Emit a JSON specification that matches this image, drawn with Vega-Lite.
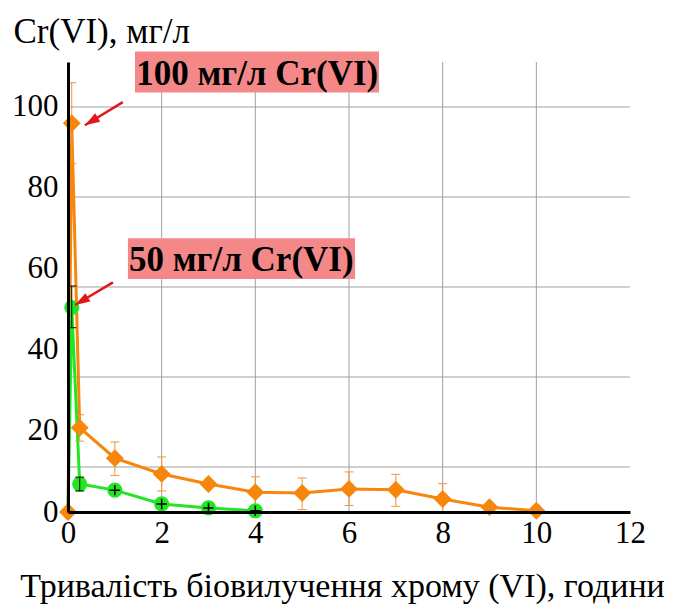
{
  "$schema": "https://vega.github.io/schema/vega-lite/v6.json",
  "width": 562,
  "height": 450,
  "autosize": {"type": "none"},
  "padding": {"left": 68, "top": 62, "right": 48, "bottom": 93},
  "background": "white",
  "config": {"view": {"stroke": null}, "font": "Liberation Serif"},
  "datasets": {
    "series": [
      {"t": 0, "c": 0, "s": "100"},
      {"t": 0.08, "c": 96, "s": "100"},
      {"t": 0.25, "c": 20.8, "s": "100"},
      {"t": 1, "c": 13.3, "s": "100"},
      {"t": 2, "c": 9.4, "s": "100"},
      {"t": 3, "c": 6.9, "s": "100"},
      {"t": 4, "c": 4.9, "s": "100"},
      {"t": 5, "c": 4.7, "s": "100"},
      {"t": 6, "c": 5.7, "s": "100"},
      {"t": 7, "c": 5.5, "s": "100"},
      {"t": 8, "c": 3.2, "s": "100"},
      {"t": 9, "c": 1.2, "s": "100"},
      {"t": 10, "c": 0.3, "s": "100"},
      {"t": 0, "c": 0, "s": "50"},
      {"t": 0.08, "c": 50.5, "s": "50"},
      {"t": 0.25, "c": 6.9, "s": "50"},
      {"t": 1, "c": 5.4, "s": "50"},
      {"t": 2, "c": 2.0, "s": "50"},
      {"t": 3, "c": 1.0, "s": "50"},
      {"t": 4, "c": 0.3, "s": "50"}
    ],
    "errors": [
      {"t": 0.08, "lo": 86, "hi": 106, "s": "100"},
      {"t": 0.25, "lo": 17.5, "hi": 24, "s": "100"},
      {"t": 1, "lo": 9, "hi": 17.3, "s": "100"},
      {"t": 2, "lo": 5.2, "hi": 13.6, "s": "100"},
      {"t": 4, "lo": 1, "hi": 8.7, "s": "100"},
      {"t": 5, "lo": 0.6, "hi": 8.4, "s": "100"},
      {"t": 6, "lo": 1.6, "hi": 9.9, "s": "100"},
      {"t": 7, "lo": 1.4, "hi": 9.3, "s": "100"},
      {"t": 8, "lo": 0, "hi": 7, "s": "100"},
      {"t": 0.08, "lo": 45.5, "hi": 55.8, "s": "50"},
      {"t": 0.25, "lo": 5.2, "hi": 8.6, "s": "50"}
    ],
    "hgrid": [{"v": 11.11}, {"v": 33.33}, {"v": 55.56}, {"v": 77.78}, {"v": 100}],
    "vgrid": [{"v": 2}, {"v": 4}, {"v": 6}, {"v": 8}, {"v": 10}],
    "notes": [
      {"label": "100 мг/л Cr(VI)", "x1": 1.43, "x2": 6.64, "y1": 103.6, "y2": 113.7, "xc": 4.04, "yc": 108.5},
      {"label": "50 мг/л Cr(VI)", "x1": 1.28, "x2": 6.13, "y1": 57.5, "y2": 67.6, "xc": 3.7, "yc": 62.4}
    ],
    "arrows": [
      {"x0": 1.17, "y0": 101.2, "x1": 0.36, "y1": 95.5},
      {"x0": 0.96, "y0": 56.7, "x1": 0.15, "y1": 51.1}
    ]
  },
  "layer": [
    {
      "data": {"name": "hgrid"},
      "mark": {"type": "rule", "color": "#a0a0a0", "strokeWidth": 1},
      "encoding": {
        "y": {"field": "v", "type": "quantitative"}
      }
    },
    {
      "data": {"name": "vgrid"},
      "mark": {"type": "rule", "color": "#a0a0a0", "strokeWidth": 1},
      "encoding": {
        "x": {"field": "v", "type": "quantitative"}
      }
    },
    {
      "data": {"name": "series"},
      "mark": {"type": "line", "strokeWidth": 3, "clip": false},
      "encoding": {
        "x": {
          "field": "t", "type": "quantitative",
          "scale": {"domain": [0, 12], "nice": false, "zero": false},
          "axis": {
            "values": [0, 2, 4, 6, 8, 10, 12],
            "title": "Тривалість біовилучення хрому (VI), години",
            "grid": false,
            "domainColor": "black",
            "domainWidth": 3,
            "ticks": false,
            "labelFont": "Liberation Serif",
            "labelFontSize": 31,
            "labelColor": "black",
            "labelPadding": 6,
            "labelFlush": false,
            "titleFont": "Liberation Serif",
            "titleFontSize": 34,
            "titleFontWeight": "normal",
            "titleColor": "black",
            "titleX": 274,
            "titleY": 84,
            "titleAlign": "center",
            "titleBaseline": "alphabetic",
            "zindex": 1
          }
        },
        "y": {
          "field": "c", "type": "quantitative",
          "scale": {"domain": [0, 111.11], "nice": false},
          "axis": {
            "values": [0, 20, 40, 60, 80, 100],
            "title": "Cr(VI), мг/л",
            "grid": false,
            "domainColor": "black",
            "domainWidth": 3,
            "ticks": false,
            "labelFont": "Liberation Serif",
            "labelFontSize": 31,
            "labelColor": "black",
            "labelPadding": 10,
            "labelFlush": false,
            "titleFont": "Liberation Serif",
            "titleFontSize": 35,
            "titleFontWeight": "normal",
            "titleColor": "black",
            "titleAngle": 0,
            "titleX": -55,
            "titleY": -20,
            "titleAlign": "left",
            "titleBaseline": "alphabetic",
            "zindex": 1
          }
        },
        "color": {"field": "s", "type": "nominal", "scale": {"domain": ["100", "50"], "range": ["#f7860c", "#22e622"]}, "legend": null}
      }
    },
    {
      "data": {"name": "errors"},
      "transform": [{"filter": "datum.s == '100'"}],
      "layer": [
        {"mark": {"type": "rule", "strokeWidth": 1, "color": "#f0963c"}, "encoding": {"y2": {"field": "hi"}}},
        {"mark": {"type": "tick", "thickness": 1, "size": 9, "orient": "horizontal", "color": "#f0963c", "opacity": 1}},
        {"mark": {"type": "tick", "thickness": 1, "size": 9, "orient": "horizontal", "color": "#f0963c", "opacity": 1}, "encoding": {"y": {"field": "hi", "type": "quantitative"}}}
      ],
      "encoding": {
        "x": {"field": "t", "type": "quantitative"},
        "y": {"field": "lo", "type": "quantitative"}
      }
    },
    {
      "data": {"name": "series"},
      "transform": [{"filter": "datum.s == '100'"}],
      "mark": {"type": "point", "shape": "diamond", "filled": true, "size": 320, "opacity": 1, "color": "#f7860c"},
      "encoding": {
        "x": {"field": "t", "type": "quantitative"},
        "y": {"field": "c", "type": "quantitative"}
      }
    },
    {
      "data": {"name": "series"},
      "transform": [{"filter": "datum.s == '50' && datum.t > 0"}],
      "mark": {"type": "point", "shape": "circle", "filled": true, "size": 230, "opacity": 1, "color": "#22e622"},
      "encoding": {
        "x": {"field": "t", "type": "quantitative"},
        "y": {"field": "c", "type": "quantitative"}
      }
    },
    {
      "data": {"name": "errors"},
      "transform": [{"filter": "datum.s == '50'"}],
      "layer": [
        {"mark": {"type": "rule", "strokeWidth": 1, "color": "black"}, "encoding": {"y2": {"field": "hi"}}},
        {"mark": {"type": "tick", "thickness": 1, "size": 9, "orient": "horizontal", "color": "black", "opacity": 1}},
        {"mark": {"type": "tick", "thickness": 1, "size": 9, "orient": "horizontal", "color": "black", "opacity": 1}, "encoding": {"y": {"field": "hi", "type": "quantitative"}}}
      ],
      "encoding": {
        "x": {"field": "t", "type": "quantitative"},
        "y": {"field": "lo", "type": "quantitative"}
      }
    },
    {
      "data": {"name": "series"},
      "transform": [{"filter": "datum.s == '50' && datum.t > 0.5"}],
      "mark": {"type": "point", "shape": "M-1,0H1M0,-1V1", "filled": false, "size": 110, "opacity": 1, "stroke": "black", "strokeWidth": 1.5},
      "encoding": {
        "x": {"field": "t", "type": "quantitative"},
        "y": {"field": "c", "type": "quantitative"}
      }
    },
    {
      "data": {"name": "arrows"},
      "mark": {"type": "rule", "color": "#e3161c", "strokeWidth": 2.5, "clip": false},
      "encoding": {
        "x": {"field": "x0", "type": "quantitative"},
        "y": {"field": "y0", "type": "quantitative"},
        "x2": {"field": "x1"},
        "y2": {"field": "y1"}
      }
    },
    {
      "data": {"name": "arrows"},
      "mark": {"type": "point", "shape": "M0,0L0.65,2L-0.65,2Z", "filled": true, "size": 225, "angle": 239, "opacity": 1, "color": "#e3161c"},
      "encoding": {
        "x": {"field": "x1", "type": "quantitative"},
        "y": {"field": "y1", "type": "quantitative"}
      }
    },
    {
      "data": {"name": "notes"},
      "mark": {"type": "rect", "color": "#f48888", "clip": false},
      "encoding": {
        "x": {"field": "x1", "type": "quantitative"},
        "x2": {"field": "x2"},
        "y": {"field": "y1", "type": "quantitative"},
        "y2": {"field": "y2"}
      }
    },
    {
      "data": {"name": "notes"},
      "mark": {"type": "text", "font": "Liberation Serif", "fontWeight": "bold", "fontSize": 35, "color": "black", "baseline": "middle", "align": "center", "dy": 1},
      "encoding": {
        "x": {"field": "xc", "type": "quantitative"},
        "y": {"field": "yc", "type": "quantitative"},
        "text": {"field": "label"}
      }
    }
  ]
}
